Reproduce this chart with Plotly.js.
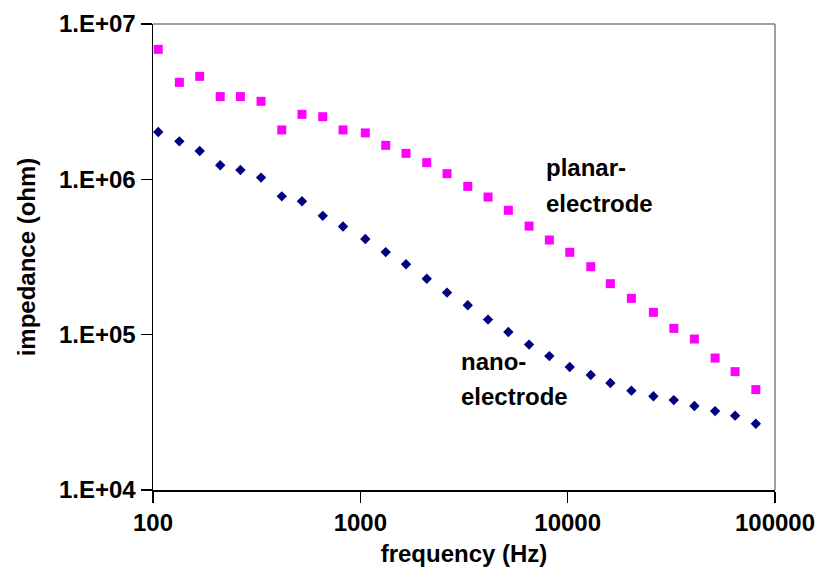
<!DOCTYPE html>
<html>
<head>
<meta charset="utf-8">
<script src="https://cdn.plot.ly/plotly-3.0.1.min.js"></script>
<style>html,body{margin:0;padding:0;background:#fff;}#chart{width:819px;height:569px;}</style>
</head>
<body>
<div id="chart"></div>
<script>
var frequency = [106, 134, 168, 211, 264, 332, 418, 523, 659, 825, 1057, 1326, 1661, 2091, 2619, 3297, 4130, 5176, 6514, 8158, 10235, 12924, 16069, 20294, 25912, 32497, 40850, 51404, 64193, 80820];
var planar = [6.87e6, 4.21e6, 4.60e6, 3.41e6, 3.41e6, 3.18e6, 2.08e6, 2.62e6, 2.53e6, 2.08e6, 1.99e6, 1.655e6, 1.47e6, 1.281e6, 1.088e6, 9.01e5, 7.69e5, 6.32e5, 5.00e5, 4.07e5, 3.39e5, 2.74e5, 2.13e5, 1.713e5, 1.392e5, 1.098e5, 9.37e4, 7.07e4, 5.78e4, 4.43e4];
var nano = [2.016e6, 1.756e6, 1.521e6, 1.231e6, 1.148e6, 1.026e6, 7.77e5, 7.22e5, 5.82e5, 4.97e5, 4.13e5, 3.40e5, 2.84e5, 2.29e5, 1.865e5, 1.545e5, 1.25e5, 1.04e5, 8.63e4, 7.28e4, 6.19e4, 5.50e4, 4.88e4, 4.36e4, 4.01e4, 3.79e4, 3.47e4, 3.22e4, 3.01e4, 2.67e4];
var xTicks = [100, 1000, 10000, 100000];
var xTickText = ["100", "1000", "10000", "100000"];
var yTicks = [1e4, 1e5, 1e6, 1e7];
var yTickText = ["1.E+04", "1.E+05", "1.E+06", "1.E+07"];
var labelPlanar = ["planar-", "electrode"];
var labelNano = ["nano-", "electrode"];

var F = "Liberation Sans, Arial, sans-serif";
var FS = 24;
var traces = [
  {x: frequency, y: planar, type: "scatter", mode: "markers", name: "planar-electrode",
   marker: {symbol: "square", size: 9, color: "#FF00FF"}},
  {x: frequency, y: nano, type: "scatter", mode: "markers", name: "nano-electrode",
   marker: {symbol: "diamond", size: 8, color: "#000080"}}
];
function lab(lines, x, yTop, yBot) {
  return [
    {xref: "x", yref: "y", x: Math.log10(x), y: Math.log10(yTop), text: "<b>" + lines[0] + "</b>",
     showarrow: false, xanchor: "left", yanchor: "middle", align: "left", font: {family: F, size: FS, color: "#000"}},
    {xref: "x", yref: "y", x: Math.log10(x), y: Math.log10(yBot), text: "<b>" + lines[1] + "</b>",
     showarrow: false, xanchor: "left", yanchor: "middle", align: "left", font: {family: F, size: FS, color: "#000"}}
  ];
}
var layout = {
  width: 819, height: 569,
  margin: {l: 153, r: 44, t: 24, b: 79},
  paper_bgcolor: "#fff", plot_bgcolor: "#fff",
  showlegend: false,
  font: {family: F, color: "#000"},
  xaxis: {
    type: "log", range: [2, 5],
    tickvals: xTicks, ticktext: xTickText,
    ticks: "outside", ticklen: 11, tickwidth: 1.5, tickcolor: "#000",
    showline: true, linecolor: "#000", linewidth: 1.5,
    showgrid: false, zeroline: false,
    tickfont: {family: F, size: FS, color: "#000", weight: "bold"},
    title: {text: "<b>frequency (Hz)</b>", font: {family: F, size: FS, color: "#000"}, standoff: 10},
    automargin: false
  },
  yaxis: {
    type: "log", range: [4, 7],
    tickvals: yTicks, ticktext: yTickText,
    ticks: "outside", ticklen: 11, tickwidth: 1.5, tickcolor: "#000",
    showline: true, linecolor: "#000", linewidth: 1.5,
    showgrid: false, zeroline: false,
    tickfont: {family: F, size: FS, color: "#000", weight: "bold"},
    title: {text: "<b>impedance (ohm)</b>", font: {family: F, size: FS, color: "#000"}, standoff: 16},
    automargin: false
  },
  shapes: [
    {type: "line", xref: "paper", yref: "paper", x0: 0, x1: 1, y0: 1, y1: 1, line: {color: "#808080", width: 1.5}},
    {type: "line", xref: "paper", yref: "paper", x0: 1, x1: 1, y0: 0, y1: 1, line: {color: "#808080", width: 1.5}}
  ],
  annotations: lab(labelPlanar, 7700, 1.19e6, 7.0e5).concat(lab(labelNano, 3000, 6.75e4, 4.0e4))
};
Plotly.newPlot("chart", traces, layout, {staticPlot: true, displayModeBar: false});
</script>
</body>
</html>
